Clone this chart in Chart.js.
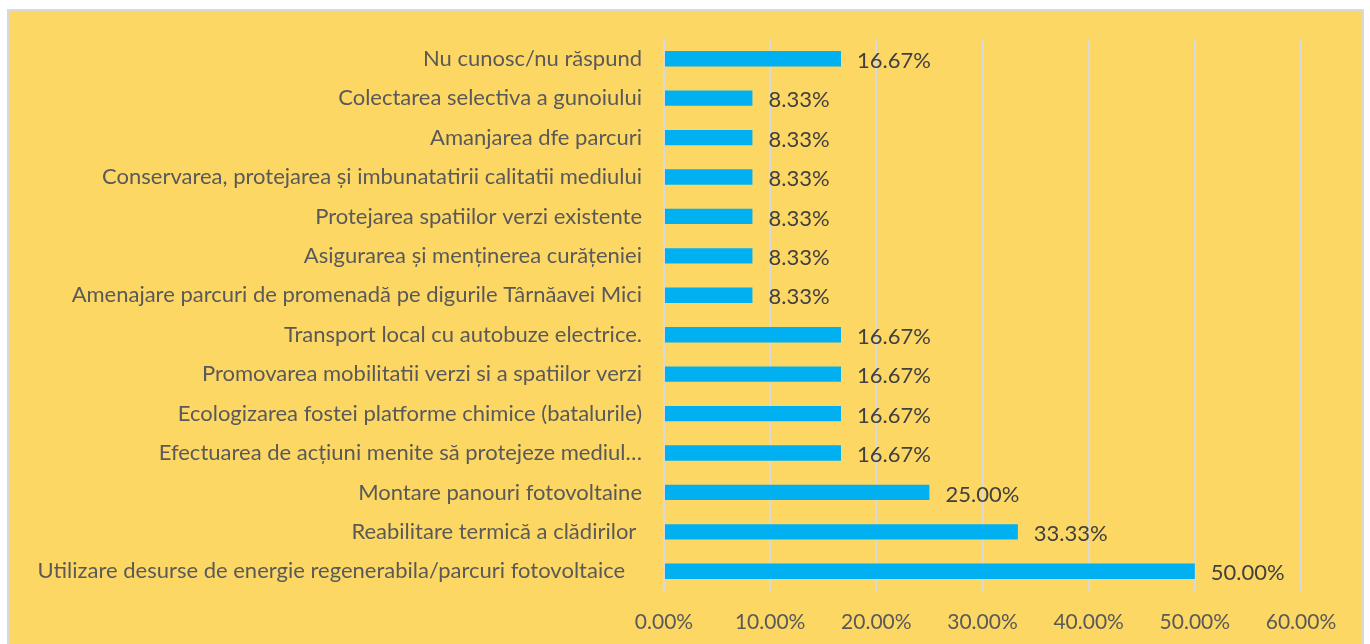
<!DOCTYPE html>
<html>
<head>
<meta charset="utf-8">
<script src="https://cdn.jsdelivr.net/npm/chart.js@4"></script>
<style>
  html, body { margin: 0; padding: 0; background: #fff; }
  .panel { position: absolute; left: 7px; top: 9px; width: 1357px; height: 640px;
           background: #fdd764; border: 2px solid #d9d9d9; box-sizing: border-box; }
  .panel canvas { position: absolute; left: 0; top: 0; }
</style>
</head>
<body>
<div class="panel"><canvas id="c" width="1353" height="636"></canvas></div>
<script>
// categories, top to bottom as in the picture
const categories = [
  'Nu cunosc/nu răspund',
  'Colectarea selectiva a gunoiului',
  'Amanjarea dfe parcuri',
  'Conservarea, protejarea și imbunatatirii calitatii mediului',
  'Protejarea spatiilor verzi existente',
  'Asigurarea și menținerea curățeniei',
  'Amenajare parcuri de promenadă pe digurile Târnăavei Mici',
  'Transport local cu autobuze electrice.',
  'Promovarea mobilitatii verzi si a spatiilor verzi',
  'Ecologizarea fostei platforme chimice (batalurile)',
  'Efectuarea de acțiuni menite să protejeze mediul…',
  'Montare panouri fotovoltaine',
  'Reabilitare termică a clădirilor ',
  'Utilizare desurse de energie regenerabila/parcuri fotovoltaice   '
];
const values = [16.67, 8.33, 8.33, 8.33, 8.33, 8.33, 8.33, 16.67, 16.67, 16.67, 16.67, 25.00, 33.33, 50.00];
const xTicks = [0, 10, 20, 30, 40, 50, 60];

const textColor = '#595959';
const fontFamily = 'Lato, "Open Sans", sans-serif';

// value labels at the end of each bar
const barLabels = {
  id: 'barLabels',
  afterDatasetsDraw(chart) {
    const ctx = chart.ctx;
    const meta = chart.getDatasetMeta(0);
    ctx.save();
    ctx.font = '22px ' + fontFamily;
    ctx.fillStyle = '#404040';
    ctx.textAlign = 'left';
    ctx.textBaseline = 'middle';
    meta.data.forEach((bar, i) => {
      ctx.fillText(values[i].toFixed(2) + '%', bar.x + 16, bar.y + 2);
    });
    ctx.restore();
  }
};

new Chart(document.getElementById('c').getContext('2d'), {
  type: 'bar',
  data: {
    labels: categories,
    datasets: [{
      data: values,
      backgroundColor: '#00b0f0',
      borderWidth: 0,
      barPercentage: 0.39,
      categoryPercentage: 1
    }]
  },
  options: {
    indexAxis: 'y',
    responsive: false,
    animation: false,
    layout: { padding: { top: 28, right: 61, bottom: 0, left: 0 } },
    plugins: { legend: { display: false }, tooltip: { enabled: false } },
    scales: {
      x: {
        min: 0, max: 60,
        afterBuildTicks: (s) => { s.ticks = xTicks.map(v => ({ value: v })); },
        afterFit: (s) => { s.height = 56; },
        grid: { color: '#d9d9d9', lineWidth: 2, drawTicks: false },
        border: { display: false },
        ticks: {
          padding: 19,
          color: textColor,
          font: { family: fontFamily, size: 21 },
          callback: (v) => v.toFixed(2) + '%'
        }
      },
      y: {
        afterFit: (s) => { s.width = 655; s.paddingTop = 0; s.paddingBottom = 0; },
        grid: { display: false, drawTicks: false },
        border: { display: true, color: '#d9d9d9', width: 2 },
        ticks: {
          padding: 22,
          autoSkip: false,
          color: textColor,
          font: { family: fontFamily, size: 22 }
        }
      }
    }
  },
  plugins: [barLabels]
});
</script>
</body>
</html>
